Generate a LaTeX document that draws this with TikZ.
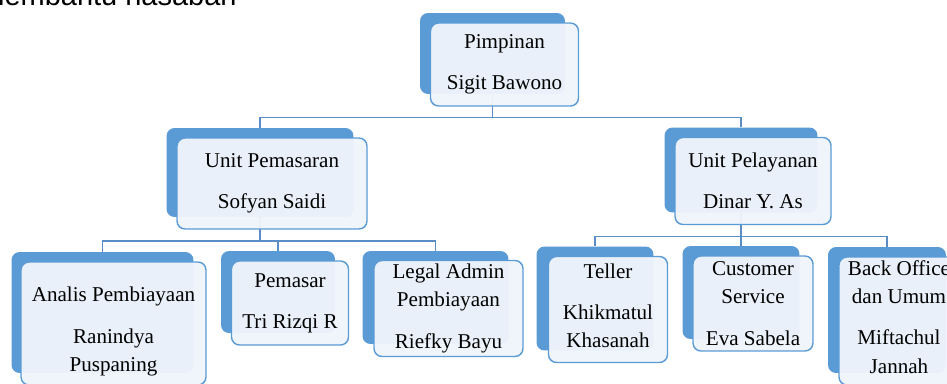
\documentclass[tikz,border=0pt]{standalone}
\usepackage{fontspec}
\setmainfont{Liberation Serif}
\newfontfamily\headfont{Liberation Sans}
\usetikzlibrary{calc}
\definecolor{boxblue}{HTML}{5B9BD5}
\definecolor{boxpale}{HTML}{EFF4FB}
\definecolor{linkblue}{HTML}{5A8CC6}

\begin{document}
\begin{tikzpicture}[x=0.02cm,y=-0.02cm]
    \tikzset{backbox/.style 2 args={rectangle, rounded corners=0.16cm,
        fill = boxblue,
        minimum width = #1, minimum height = #2, inner sep=0pt},
      frontbox/.style 2 args={rectangle, rounded corners=0.16cm,
        fill = boxpale, fill opacity=0.96,
        draw = boxblue, line width=0.8pt,
        minimum width = #1, minimum height = #2, inner sep=0pt},
      lbl/.style = {align=center, inner sep=0pt,
        font=\fontsize{12}{16}\selectfont},
      conn/.style = {draw=linkblue, line width=0.9pt}}
    \useasboundingbox (0,0) rectangle (947,383);
    \clip (0,0) rectangle (947,383);
    % text cut off above the chart
    \node[anchor=base east, inner sep=0pt, font=\headfont\fontsize{16.5}{19}\selectfont] (cut) at (237,5.5) {membantu nasabah};
    % back boxes
    \node[backbox={2.90cm}{1.62cm}] (pimpB) at (492.5,53.5) {};
    \node[backbox={3.74cm}{1.78cm}] (pemB) at (260,172.5) {};
    \node[backbox={3.06cm}{1.70cm}] (pelB) at (741,170) {};
    \node[backbox={3.64cm}{2.42cm}] (anaB) at (102.5,312.5) {};
    \node[backbox={2.28cm}{1.64cm}] (pasB) at (278,292) {};
    \node[backbox={2.92cm}{1.86cm}] (legB) at (435.5,297.5) {};
    \node[backbox={2.34cm}{2.08cm}] (telB) at (595,298.5) {};
    \node[backbox={2.34cm}{1.86cm}] (csB) at (741,292.5) {};
    \node[backbox={2.36cm}{2.52cm}] (boB) at (887,310) {};
    % connectors
    \draw[conn] (pimpB.south) -- ++(0,23) coordinate (barA) -| (pemB.north);
    \draw[conn] (barA) -| (pelB.north);
    \draw[conn] (pemB.south) -- ++(0,23.5) coordinate (barB) -| (anaB.north);
    \draw[conn] (barB) -| (pasB.north);
    \draw[conn] (barB) -| (legB.north);
    \draw[conn] (pelB.south) -- ++(0,23.5) coordinate (barC) -| (telB.north);
    \draw[conn] (barC) -| (csB.north);
    \draw[conn] (barC) -| (boB.north);
    % front boxes
    \node[frontbox={2.96cm}{1.66cm}] (pimpF) at ([shift={(12,11)}]pimpB) {};
    \node[frontbox={3.80cm}{1.82cm}] (pemF) at ([shift={(12,11)}]pemB) {};
    \node[frontbox={3.12cm}{1.74cm}] (pelF) at ([shift={(12,11)}]pelB) {};
    \node[frontbox={3.70cm}{2.46cm}] (anaF) at ([shift={(11,11)}]anaB) {};
    \node[frontbox={2.34cm}{1.68cm}] (pasF) at ([shift={(12,11)}]pasB) {};
    \node[frontbox={2.98cm}{1.92cm}] (legF) at ([shift={(13,11)}]legB) {};
    \node[frontbox={2.38cm}{2.12cm}] (telF) at ([shift={(13,11)}]telB) {};
    \node[frontbox={2.40cm}{1.90cm}] (csF) at ([shift={(12,11)}]csB) {};
    \node[frontbox={2.40cm}{2.56cm}] (boF) at ([shift={(12,11)}]boB) {};
    % texts
    \node[lbl] (pimpT) at (pimpF) {Pimpinan\\[7.5pt]Sigit Bawono};
    \node[lbl] (pemT) at (pemF) {Unit Pemasaran\\[7.5pt]Sofyan Saidi};
    \node[lbl] (pelT) at (pelF) {Unit Pelayanan\\[7.5pt]Dinar Y. As};
    \node[lbl, yshift=-0.16cm] (anaT) at (anaF) {Analis Pembiayaan\\[7.5pt]Ranindya\\Puspaning};
    \node[lbl] (pasT) at (pasF) {Pemasar\\[7.5pt]Tri Rizqi R};
    \node[lbl] (legT) at (legF) {Legal Admin\\Pembiayaan\\[7.5pt]Riefky Bayu};
    \node[lbl, yshift=0.08cm] (telT) at (telF) {Teller\\[7.5pt]Khikmatul\\Khasanah};
    \node[lbl] (csT) at (csF) {Customer\\Service\\[7.5pt]Eva Sabela};
    \node[lbl, yshift=0.08cm] (boT) at (boF) {Back Office\\dan Umum\\[7.5pt]Miftachul\\Jannah};
\end{tikzpicture}
\end{document}
